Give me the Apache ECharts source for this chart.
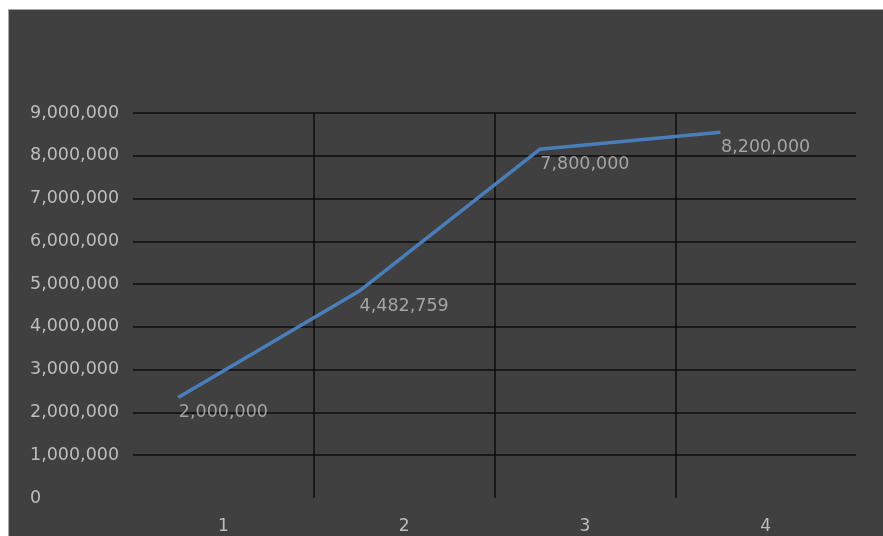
<!DOCTYPE html>
<html><head><meta charset="utf-8">
<script src="https://cdn.jsdelivr.net/npm/echarts@6/dist/echarts.min.js"></script>
<style>html,body{margin:0;padding:0;background:#fff}#c{width:883px;height:536px}</style>
</head><body><div id="c"></div>
<script>
const categories = ['1', '2', '3', '4'];
const values = [2000000, 4482759, 7800000, 8200000];
const yTicks = { min: 0, max: 9000000, interval: 1000000 };

const FONT = 'DejaVu Sans';
const TXT = '#bdbdbd';
const chart = echarts.init(document.getElementById('c'));
chart.setOption({
  animation: false,
  backgroundColor: '#ffffff',
  graphic: [{
    type: 'rect', z: -10, silent: true,
    shape: { x: 8.5, y: 9.5, width: 900, height: 600 },
    style: { fill: '#404040', stroke: '#a6a6a6', lineWidth: 1 }
  }],
  grid: { left: 133, right: 27, top: 113, bottom: 38, containLabel: false },
  xAxis: [{
    type: 'category', data: categories, boundaryGap: true,
    axisLine: { show: false }, axisTick: { show: false },
    axisLabel: { color: TXT, fontFamily: FONT, fontSize: 17, margin: 20 },
    splitLine: { show: true, showMinLine: false, showMaxLine: false, lineStyle: { color: '#0d0d0d', width: 1.5 } }
  }, {
    type: 'value', min: 0.75, max: 4.75, show: false
  }],
  yAxis: [{
    type: 'value', min: yTicks.min, max: yTicks.max, interval: yTicks.interval,
    axisLine: { show: false }, axisTick: { show: false },
    axisLabel: { color: TXT, fontFamily: FONT, fontSize: 17.5, margin: 103, align: 'left',
      formatter: v => v.toLocaleString('en-US') },
    splitLine: { show: true, showMinLine: false, lineStyle: { color: '#0d0d0d', width: 1.5 } }
  }, {
    type: 'value', min: yTicks.min - 350000, max: yTicks.max - 350000, show: false
  }],
  series: [{
    type: 'line', xAxisIndex: 1, yAxisIndex: 1,
    data: values.map((v, i) => [i + 1, v]),
    showSymbol: false, symbol: 'none',
    lineStyle: { color: '#4a7ebb', width: 3.5 }
  }, {
    type: 'scatter', xAxisIndex: 0, yAxisIndex: 0,
    data: values.map((v, i) => [categories[i], v]),
    symbolSize: 1, itemStyle: { color: 'rgba(0,0,0,0)' },
    label: { show: true, position: 'inside', color: TXT, fontFamily: FONT, fontSize: 17.5,
      formatter: p => p.value[1].toLocaleString('en-US') }
  }]
});
</script></body></html>
